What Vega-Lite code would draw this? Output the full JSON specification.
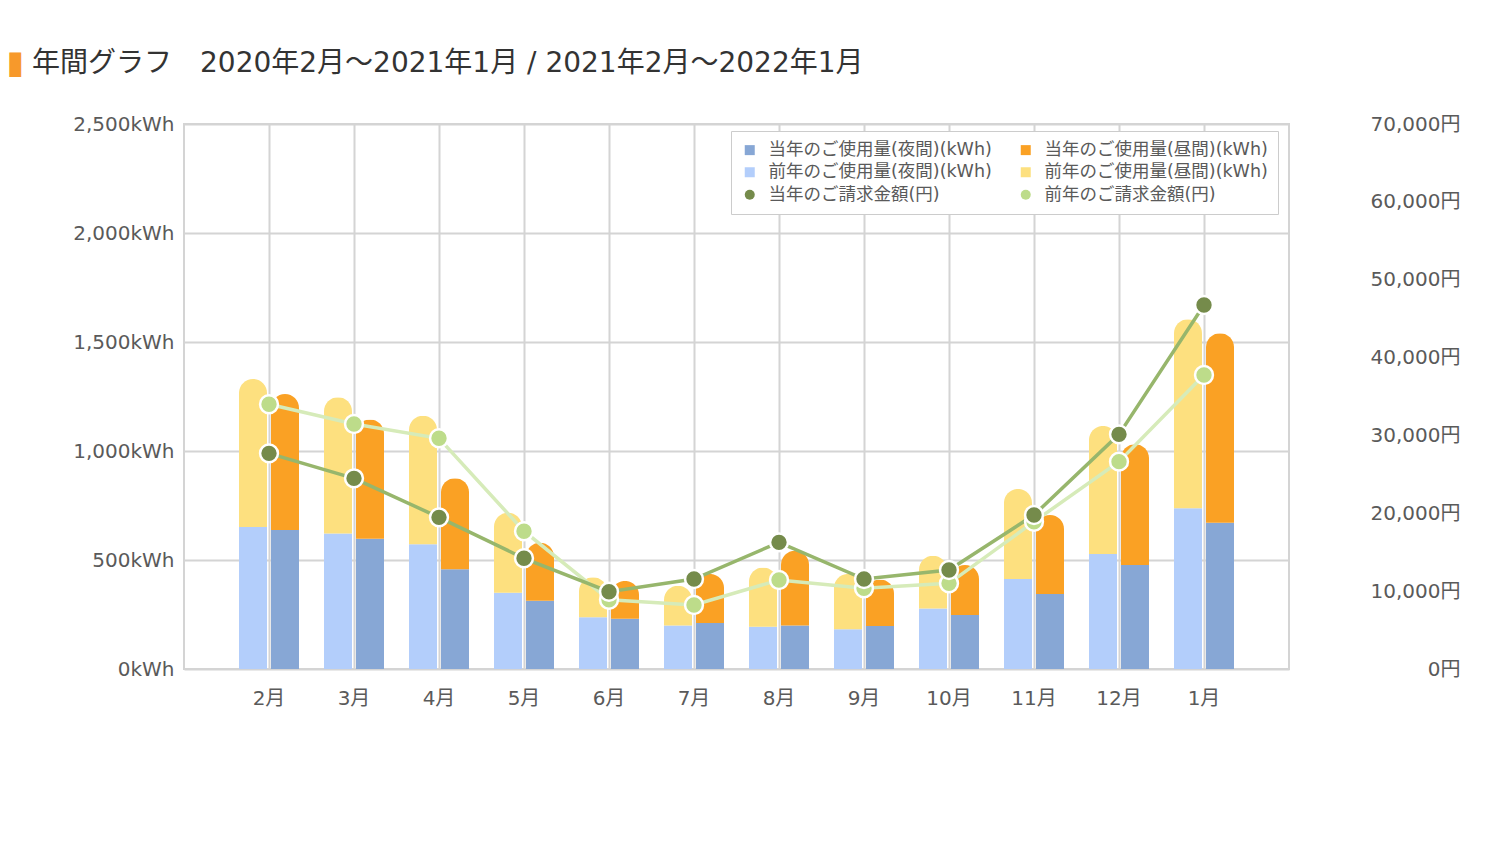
{
  "$schema": "https://vega.github.io/schema/vega-lite/v6.json",
  "width": 1105,
  "height": 545,
  "autosize": {"type": "none"},
  "padding": {"left": 184, "top": 124, "right": 211, "bottom": 174},
  "background": "white",
  "config": {
    "font": "DejaVu Sans, Noto Sans CJK JP",
    "view": {"stroke": "#d4d4d4", "strokeWidth": 2},
    "axis": {"labelFont": "DejaVu Sans, Noto Sans CJK JP", "labelColor": "#5a5a5a"},
    "legend": {"labelFont": "DejaVu Sans, Noto Sans CJK JP"}
  },
  "title": {
    "text": "年間グラフ　2020年2月～2021年1月 / 2021年2月～2022年1月",
    "anchor": "start",
    "frame": "group",
    "dx": -152,
    "offset": -32,
    "fontSize": 28,
    "fontWeight": "normal",
    "color": "#333333",
    "font": "DejaVu Sans, Noto Sans CJK JP"
  },
  "datasets": {
    "usage": [
      {"月": "2月", "年": "前年", "区分": "夜間", "系列": "前年のご使用量(夜間)(kWh)", "kWh": 651},
      {"月": "2月", "年": "前年", "区分": "昼間", "系列": "前年のご使用量(昼間)(kWh)", "kWh": 679},
      {"月": "2月", "年": "当年", "区分": "夜間", "系列": "当年のご使用量(夜間)(kWh)", "kWh": 638},
      {"月": "2月", "年": "当年", "区分": "昼間", "系列": "当年のご使用量(昼間)(kWh)", "kWh": 623},
      {"月": "3月", "年": "前年", "区分": "夜間", "系列": "前年のご使用量(夜間)(kWh)", "kWh": 622},
      {"月": "3月", "年": "前年", "区分": "昼間", "系列": "前年のご使用量(昼間)(kWh)", "kWh": 624},
      {"月": "3月", "年": "当年", "区分": "夜間", "系列": "当年のご使用量(夜間)(kWh)", "kWh": 598},
      {"月": "3月", "年": "当年", "区分": "昼間", "系列": "当年のご使用量(昼間)(kWh)", "kWh": 547},
      {"月": "4月", "年": "前年", "区分": "夜間", "系列": "前年のご使用量(夜間)(kWh)", "kWh": 572},
      {"月": "4月", "年": "前年", "区分": "昼間", "系列": "前年のご使用量(昼間)(kWh)", "kWh": 590},
      {"月": "4月", "年": "当年", "区分": "夜間", "系列": "当年のご使用量(夜間)(kWh)", "kWh": 457},
      {"月": "4月", "年": "当年", "区分": "昼間", "系列": "当年のご使用量(昼間)(kWh)", "kWh": 418},
      {"月": "5月", "年": "前年", "区分": "夜間", "系列": "前年のご使用量(夜間)(kWh)", "kWh": 350},
      {"月": "5月", "年": "前年", "区分": "昼間", "系列": "前年のご使用量(昼間)(kWh)", "kWh": 367},
      {"月": "5月", "年": "当年", "区分": "夜間", "系列": "当年のご使用量(夜間)(kWh)", "kWh": 313},
      {"月": "5月", "年": "当年", "区分": "昼間", "系列": "当年のご使用量(昼間)(kWh)", "kWh": 266},
      {"月": "6月", "年": "前年", "区分": "夜間", "系列": "前年のご使用量(夜間)(kWh)", "kWh": 237},
      {"月": "6月", "年": "前年", "区分": "昼間", "系列": "前年のご使用量(昼間)(kWh)", "kWh": 184},
      {"月": "6月", "年": "当年", "区分": "夜間", "系列": "当年のご使用量(夜間)(kWh)", "kWh": 231},
      {"月": "6月", "年": "当年", "区分": "昼間", "系列": "当年のご使用量(昼間)(kWh)", "kWh": 173},
      {"月": "7月", "年": "前年", "区分": "夜間", "系列": "前年のご使用量(夜間)(kWh)", "kWh": 200},
      {"月": "7月", "年": "前年", "区分": "昼間", "系列": "前年のご使用量(昼間)(kWh)", "kWh": 182},
      {"月": "7月", "年": "当年", "区分": "夜間", "系列": "当年のご使用量(夜間)(kWh)", "kWh": 211},
      {"月": "7月", "年": "当年", "区分": "昼間", "系列": "当年のご使用量(昼間)(kWh)", "kWh": 225},
      {"月": "8月", "年": "前年", "区分": "夜間", "系列": "前年のご使用量(夜間)(kWh)", "kWh": 194},
      {"月": "8月", "年": "前年", "区分": "昼間", "系列": "前年のご使用量(昼間)(kWh)", "kWh": 272},
      {"月": "8月", "年": "当年", "区分": "夜間", "系列": "当年のご使用量(夜間)(kWh)", "kWh": 200},
      {"月": "8月", "年": "当年", "区分": "昼間", "系列": "当年のご使用量(昼間)(kWh)", "kWh": 343},
      {"月": "9月", "年": "前年", "区分": "夜間", "系列": "前年のご使用量(夜間)(kWh)", "kWh": 182},
      {"月": "9月", "年": "前年", "区分": "昼間", "系列": "前年のご使用量(昼間)(kWh)", "kWh": 254},
      {"月": "9月", "年": "当年", "区分": "夜間", "系列": "当年のご使用量(夜間)(kWh)", "kWh": 197},
      {"月": "9月", "年": "当年", "区分": "昼間", "系列": "当年のご使用量(昼間)(kWh)", "kWh": 214},
      {"月": "10月", "年": "前年", "区分": "夜間", "系列": "前年のご使用量(夜間)(kWh)", "kWh": 278},
      {"月": "10月", "年": "前年", "区分": "昼間", "系列": "前年のご使用量(昼間)(kWh)", "kWh": 242},
      {"月": "10月", "年": "当年", "区分": "夜間", "系列": "当年のご使用量(夜間)(kWh)", "kWh": 248},
      {"月": "10月", "年": "当年", "区分": "昼間", "系列": "当年のご使用量(昼間)(kWh)", "kWh": 229},
      {"月": "11月", "年": "前年", "区分": "夜間", "系列": "前年のご使用量(夜間)(kWh)", "kWh": 413},
      {"月": "11月", "年": "前年", "区分": "昼間", "系列": "前年のご使用量(昼間)(kWh)", "kWh": 413},
      {"月": "11月", "年": "当年", "区分": "夜間", "系列": "当年のご使用量(夜間)(kWh)", "kWh": 344},
      {"月": "11月", "年": "当年", "区分": "昼間", "系列": "当年のご使用量(昼間)(kWh)", "kWh": 362},
      {"月": "12月", "年": "前年", "区分": "夜間", "系列": "前年のご使用量(夜間)(kWh)", "kWh": 528},
      {"月": "12月", "年": "前年", "区分": "昼間", "系列": "前年のご使用量(昼間)(kWh)", "kWh": 587},
      {"月": "12月", "年": "当年", "区分": "夜間", "系列": "当年のご使用量(夜間)(kWh)", "kWh": 477},
      {"月": "12月", "年": "当年", "区分": "昼間", "系列": "当年のご使用量(昼間)(kWh)", "kWh": 554},
      {"月": "1月", "年": "前年", "区分": "夜間", "系列": "前年のご使用量(夜間)(kWh)", "kWh": 737},
      {"月": "1月", "年": "前年", "区分": "昼間", "系列": "前年のご使用量(昼間)(kWh)", "kWh": 867},
      {"月": "1月", "年": "当年", "区分": "夜間", "系列": "当年のご使用量(夜間)(kWh)", "kWh": 671},
      {"月": "1月", "年": "当年", "区分": "昼間", "系列": "当年のご使用量(昼間)(kWh)", "kWh": 869}
    ],
    "charge": [
      {"月": "2月", "年": "前年", "系列": "前年のご請求金額(円)", "円": 34000},
      {"月": "3月", "年": "前年", "系列": "前年のご請求金額(円)", "円": 31470},
      {"月": "4月", "年": "前年", "系列": "前年のご請求金額(円)", "円": 29630},
      {"月": "5月", "年": "前年", "系列": "前年のご請求金額(円)", "円": 17700},
      {"月": "6月", "年": "前年", "系列": "前年のご請求金額(円)", "円": 8900},
      {"月": "7月", "年": "前年", "系列": "前年のご請求金額(円)", "円": 8220},
      {"月": "8月", "年": "前年", "系列": "前年のご請求金額(円)", "円": 11430},
      {"月": "9月", "年": "前年", "系列": "前年のご請求金額(円)", "円": 10360},
      {"月": "10月", "年": "前年", "系列": "前年のご請求金額(円)", "円": 11000},
      {"月": "11月", "年": "前年", "系列": "前年のご請求金額(円)", "円": 18920},
      {"月": "12月", "年": "前年", "系列": "前年のご請求金額(円)", "円": 26630},
      {"月": "1月", "年": "前年", "系列": "前年のご請求金額(円)", "円": 37760},
      {"月": "2月", "年": "当年", "系列": "当年のご請求金額(円)", "円": 27700},
      {"月": "3月", "年": "当年", "系列": "当年のご請求金額(円)", "円": 24490},
      {"月": "4月", "年": "当年", "系列": "当年のご請求金額(円)", "円": 19480},
      {"月": "5月", "年": "当年", "系列": "当年のご請求金額(円)", "円": 14220},
      {"月": "6月", "年": "当年", "系列": "当年のご請求金額(円)", "円": 9930},
      {"月": "7月", "年": "当年", "系列": "当年のご請求金額(円)", "円": 11560},
      {"月": "8月", "年": "当年", "系列": "当年のご請求金額(円)", "円": 16270},
      {"月": "9月", "年": "当年", "系列": "当年のご請求金額(円)", "円": 11560},
      {"月": "10月", "年": "当年", "系列": "当年のご請求金額(円)", "円": 12710},
      {"月": "11月", "年": "当年", "系列": "当年のご請求金額(円)", "円": 19780},
      {"月": "12月", "年": "当年", "系列": "当年のご請求金額(円)", "円": 30140},
      {"月": "1月", "年": "当年", "系列": "当年のご請求金額(円)", "円": 46750}
    ]
  },
  "layer": [
    {
      "data": {"name": "usage"},
      "mark": {"type": "bar", "cornerRadiusEnd": 14},
      "encoding": {
        "x": {
          "field": "月",
          "type": "nominal",
          "sort": ["2月", "3月", "4月", "5月", "6月", "7月", "8月", "9月", "10月", "11月", "12月", "1月"],
          "scale": {"paddingInner": 0, "paddingOuter": 0.5},
          "axis": {
            "title": null,
            "labelAngle": 0,
            "labelFontSize": 20,
            "labelPadding": 19,
            "ticks": false,
            "domain": false,
            "grid": true,
            "gridColor": "#d4d4d4",
            "gridWidth": 2,
            "bandPosition": 0.5
          }
        },
        "xOffset": {
          "field": "年",
          "type": "nominal",
          "sort": ["前年", "当年"],
          "scale": {"paddingInner": 0.125, "paddingOuter": 0.39}
        },
        "y": {
          "field": "kWh",
          "type": "quantitative",
          "stack": "zero",
          "scale": {"domain": [0, 2500]},
          "axis": {
            "title": "▮",
            "titleColor": "#f7992b",
            "titleFont": "DejaVu Sans",
            "titleFontSize": 32,
            "titleFontWeight": "normal",
            "titleAngle": 0,
            "titleAlign": "left",
            "titleBaseline": "middle",
            "titleX": -178,
            "titleY": -62,
            "values": [0, 500, 1000, 1500, 2000, 2500],
            "labelExpr": "format(datum.value, ',') + 'kWh'",
            "labelFontSize": 20,
            "labelPadding": 10,
            "ticks": false,
            "domain": false,
            "grid": true,
            "gridColor": "#d4d4d4",
            "gridWidth": 2
          }
        },
        "order": {"field": "区分", "sort": "ascending"},
        "color": {
          "field": "系列",
          "type": "nominal",
          "scale": {
            "domain": ["当年のご使用量(夜間)(kWh)", "当年のご使用量(昼間)(kWh)", "前年のご使用量(夜間)(kWh)", "前年のご使用量(昼間)(kWh)", "当年のご請求金額(円)", "前年のご請求金額(円)"],
            "range": ["#87a7d5", "#faa124", "#b3cefb", "#fde07f", "#758b4b", "#bddc8a"]
          },
          "legend": {
            "title": null,
            "orient": "none",
            "direction": "horizontal",
            "legendX": 547,
            "legendY": 7,
            "columns": 2,
            "labelFontSize": 17.5,
            "labelColor": "#5a5a5a",
            "labelLimit": 400,
            "labelOffset": 10,
            "symbolSize": 100,
            "symbolStrokeWidth": 0,
            "strokeColor": "#cccccc",
            "fillColor": "white",
            "padding": 10,
            "columnPadding": 25,
            "rowPadding": 3.5,
            "encode": {
              "symbols": {
                "update": {
                  "shape": {"signal": "indexof(datum.value, '円') >= 0 ? 'circle' : 'square'"}
                }
              }
            }
          }
        }
      }
    },
    {
      "data": {"name": "charge"},
      "encoding": {
        "x": {
          "field": "月",
          "type": "nominal",
          "sort": ["2月", "3月", "4月", "5月", "6月", "7月", "8月", "9月", "10月", "11月", "12月", "1月"]
        },
        "y": {
          "field": "円",
          "type": "quantitative",
          "scale": {"domain": [0, 70000]},
          "axis": {
            "orient": "right",
            "title": null,
            "values": [0, 10000, 20000, 30000, 40000, 50000, 60000, 70000],
            "labelExpr": "format(datum.value, ',') + '円'",
            "labelFontSize": 20,
            "labelAlign": "right",
            "labelPadding": 171,
            "ticks": false,
            "tickSize": 0,
            "domain": false,
            "grid": false
          }
        }
      },
      "layer": [
        {
          "transform": [{"filter": "datum['年'] === '前年'"}],
          "mark": {"type": "line", "color": "#d6ebb9", "strokeWidth": 3.5}
        },
        {
          "transform": [{"filter": "datum['年'] === '当年'"}],
          "mark": {"type": "line", "color": "#97b66c", "strokeWidth": 3.5}
        },
        {
          "mark": {"type": "point", "filled": true, "opacity": 1, "size": 320, "stroke": "white", "strokeWidth": 2.5},
          "encoding": {
            "color": {"field": "系列", "type": "nominal"}
          }
        }
      ]
    }
  ],
  "resolve": {"scale": {"y": "independent"}}
}
